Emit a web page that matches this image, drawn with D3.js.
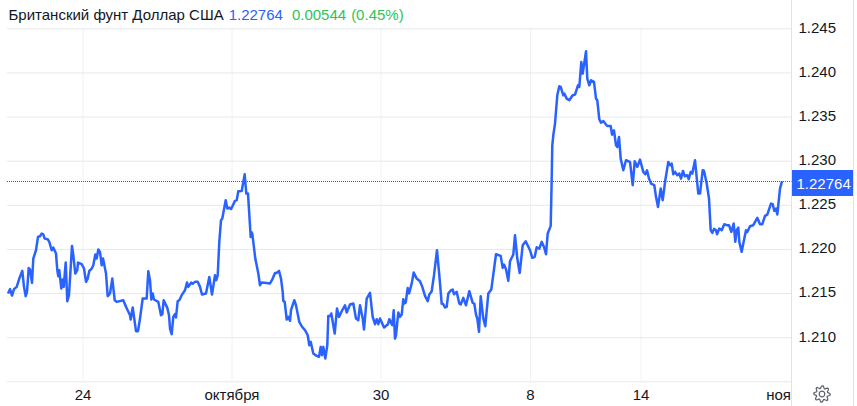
<!DOCTYPE html>
<html>
<head>
<meta charset="utf-8">
<script src="https://cdn.jsdelivr.net/npm/d3@7"></script>
<style>
    html, body { margin: 0; padding: 0; background: #fff; }
    svg { display: block; font-family: "Liberation Sans", Arial, sans-serif; }
</style>
</head>
<body>
<div class="chart"></div>
<script>
// время в барах от начала графика
var barTimes = [0,2,4,6,8.7,11.3,14.3,16,17.7,19,20.7,22,24,25.3,28,30,32,33.7,35.3,36.7,39.7,41.3,43.7,45.3,48,49.3,50.3,51.3,53.3,54.7,55.7,57.7,59.3,61,64,65.3,67.3,69.3,70,73.7,76,78,79.7,81.3,83.7,85.3,87.3,88.7,90.3,92,93.7,95,98,99.7,102,104.3,106.7,108.7,115.3,118,122,122.7,124.7,128,130,
    132,134.7,138.7,140.3,142,143.3,144.7,146,150.3,153,154.3,155.7,159.3,161,162,163.7,165.3,167,168,169.7,171.3,173.7,177,179,180.3,183.3,184.7,187,189.7,192,194,198,201.3,204,207,208.3,209.7,211.3,213,214.3,217.7,219.3,221.3,223,227,228.7,230.3,233.7,236.7,238.3,240,242.7,243.3,244.3,247.3,250.3,252,253.7,258.7,
    262,264.7,267,268.7,271,273,274.7,275.3,276.7,278.7,280.3,282,283,286.3,288,291.3,293.7,297,299.7,301.3,302.7,305.3,308.7,311,312.7,314,315.3,317.3,319.3,320.3,322.3,323.3,326.7,329,331,333.7,337,338.7,342,345.3,348,350.3,352,354.7,356,358.7,362,364.7,367,368.7,370.3,372,376,380,381.3,384.3,
    385.7,387,388,390.3,392,393.7,395.3,396.3,397.7,399.7,401,403.7,405.7,408.7,412,414.3,417,419.7,421.3,423.7,426,429,431.3,433.7,435.3,437,438.7,440.3,443,444.7,446,448.7,451.3,452.7,455.3,458,461.3,464.7,466.3,468,469.3,471,472.7,475.3,477.3,480.3,483.3,488,492.7,494.7,496,498,500.3,502,505.3,507,509.3,511.7,
    514.7,517.7,522,524.3,526.7,528.7,531.3,533.7,536,538,539.7,542.7,543.7,544.3,545.3,547,549.3,551.3,552.7,555.3,556.3,558.7,561.3,564.7,567,570,571.3,573.3,574.7,578,579.3,581.3,583,586,588,589.3,591.3,593,595.3,598,599.3,602.7,604,606,608,609.3,611,612.7,615.3,618,622,624.7,626.7,629.3,
    632,635.3,637.3,639,641,643,646.3,648,650,652.7,654.7,657.3,660.3,662,663.7,665.3,667,669.3,671.3,673,675,676.7,679.3,680.7,682.7,684.3,687,689.3,690.3,692,694.7,696,698.7,701,702.7,704.3,706,708,709,711.3,713.7,716.3,718.7,721,723.3,725.7,727.3,728.7,730.3,731.3,733.7,735.3,738,739.3,742,745.3,749.3,752,754.3,757,759.3,763,764.7,766.3,768,769.3,772,774];
var closes = [1.21495,1.21544,1.21472,1.21544,1.2157,1.21664,1.21751,1.2157,1.21464,1.21513,1.21785,1.21766,1.21615,1.21891,1.21985,1.22136,1.22144,1.22174,1.22166,1.22117,1.2211,1.2208,1.21985,1.22015,1.21948,1.21759,1.21691,1.21759,1.21551,1.21653,1.2157,1.21846,1.21408,1.21476,1.22034,1.21929,1.21721,1.21759,1.21846,1.21827,1.21778,1.21627,1.21664,1.21751,1.21778,1.21815,1.21936,1.21891,1.21993,1.21966,1.21815,1.21891,1.21721,1.21464,1.21495,1.21664,1.21419,1.214,1.21419,1.21344,1.21249,1.212,1.21336,1.21068,1.21068,
    1.21211,1.21438,1.21438,1.21748,1.21646,1.21427,1.21495,1.21427,1.214,1.21249,1.21257,1.21419,1.21332,1.21249,1.21098,1.21034,1.2123,1.21261,1.21223,1.21408,1.21419,1.21476,1.21532,1.21619,1.2157,1.21619,1.21604,1.21627,1.21627,1.2157,1.21483,1.21495,1.21683,1.21483,1.21702,1.21646,1.21702,1.2208,1.22325,1.22344,1.22552,1.22457,1.22469,1.2245,1.22544,1.22552,1.22654,1.22657,1.22846,1.22627,1.22627,1.22136,1.22193,1.22174,1.21891,1.21721,1.21589,1.21619,1.21615,
    1.21608,1.21664,1.21728,1.21728,1.21751,1.21664,1.21513,1.21411,1.214,1.212,1.2123,1.21185,1.21306,1.21419,1.21362,1.21173,1.21124,1.21079,1.21022,1.20909,1.20947,1.20815,1.20788,1.20777,1.2089,1.20796,1.2089,1.20758,1.20909,1.21241,1.21241,1.21268,1.21041,1.21324,1.2123,1.21294,1.21362,1.21279,1.2137,1.21381,1.21211,1.21192,1.21362,1.21211,1.21087,1.21438,1.21502,1.2123,1.21147,1.21204,1.21147,1.21211,1.21109,1.21147,1.21204,1.21136,
    1.21305,1.20984,1.21022,1.21279,1.2123,1.21256,1.2143,1.21381,1.21392,1.21558,1.21494,1.21607,1.21732,1.21664,1.21634,1.2157,1.21468,1.21407,1.21483,1.21521,1.21702,1.21985,1.21702,1.21381,1.21373,1.21336,1.21343,1.21494,1.21532,1.21539,1.21487,1.21513,1.21381,1.2137,1.21445,1.21362,1.21521,1.21388,1.21381,1.21256,1.21211,1.2106,1.21464,1.21211,1.21124,1.21494,1.21539,1.2194,1.21921,1.21785,1.21823,1.2177,1.21638,1.2186,1.21936,1.22155,1.21891,1.21728,
    1.22042,1.22087,1.21985,1.21899,1.2191,1.22019,1.22004,1.2208,1.22023,1.2194,1.22174,1.22261,1.22797,1.23174,1.23288,1.2342,1.23741,1.23843,1.23835,1.23741,1.2376,1.23703,1.23684,1.23741,1.23748,1.23854,1.23835,1.24118,1.23986,1.24239,1.2393,1.23854,1.23911,1.23892,1.23703,1.23684,1.23469,1.23431,1.2345,1.23409,1.23393,1.23393,1.23295,1.23344,1.23174,1.23156,1.23269,1.23023,1.22891,1.23005,1.22986,1.22722,1.22993,1.22929,
    1.23012,1.22873,1.22846,1.22891,1.22797,1.22741,1.22722,1.2259,1.22476,1.22684,1.22552,1.22778,1.22986,1.22948,1.22967,1.22846,1.22873,1.22835,1.22854,1.22797,1.22884,1.22824,1.22835,1.2279,1.22873,1.22854,1.23005,1.22741,1.22627,1.22627,1.22892,1.22884,1.22741,1.22571,1.22212,1.22182,1.22227,1.22212,1.22167,1.22231,1.22212,1.2228,1.22269,1.22269,1.22193,1.22288,1.2208,1.22212,1.22242,1.2208,1.21967,1.22061,1.22212,1.22193,1.22257,1.22269,1.22352,1.2228,1.2228,1.22374,1.22389,1.22514,1.22506,1.22431,1.22457,1.22389,1.22684,1.22767];

var xTickBars = [74.5, 223.5, 372.5, 522, 632.5, 782.5];
var xTickLabels = ["24", "октября", "30", "8", "14", "ноября"];
var yTicks = [1.205, 1.21, 1.215, 1.22, 1.225, 1.23, 1.235, 1.24, 1.245];
var lastPrice = 1.22764;
var titleParts = ["Британский фунт Доллар США", "1.22764", "0.00544", "(0.45%)"];

var width = 857, height = 406;
var axisX = 791.5, bottomY = 381.3;
var fontSize = 15;

var x = d3.scaleLinear().domain([0, 775]).range([8, 783]);
var y = d3.scaleLinear().domain([1.205, 1.245]).range([bottomY, 28.3]);

var svg = d3.select(".chart").append("svg")
    .attr("width", width)
    .attr("height", height);

// x axis + vertical grid
var xAxis = svg.append("g")
    .attr("transform", "translate(0," + bottomY + ")")
    .call(d3.axisBottom(x)
        .tickValues(xTickBars)
        .tickSize(-(bottomY - 28.3))
        .tickPadding(8)
        .tickFormat(function (d, i) { return xTickLabels[i]; }));
xAxis.select(".domain").remove();
xAxis.selectAll("line").attr("stroke", "#eff2f5");
xAxis.selectAll("line").filter(function (d, i) { return i == xTickBars.length - 1; }).remove();
xAxis.selectAll("text")
    .attr("fill", "#131722")
    .attr("font-size", fontSize)
    .attr("font-family", "Liberation Sans");
// последняя подпись обрезается правой шкалой
svg.append("clipPath").attr("id", "label-clip")
    .append("rect").attr("x", -40).attr("y", -5)
    .attr("width", axisX - 0.5 - x(xTickBars[5]) + 40).attr("height", 30);
xAxis.selectAll(".tick").filter(function (d, i) { return i == xTickBars.length - 1; })
    .attr("clip-path", "url(#label-clip)");

// y axis + horizontal grid
var yAxis = svg.append("g")
    .attr("transform", "translate(" + axisX + ",0)")
    .call(d3.axisRight(y)
        .tickValues(yTicks)
        .tickSize(-(axisX - 7))
        .tickPadding(7)
        .tickFormat(d3.format(".3f")));
yAxis.select(".domain").remove();
yAxis.selectAll("line").attr("stroke", "#e6e8eb");
yAxis.selectAll("text")
    .attr("fill", "#131722")
    .attr("font-size", fontSize)
    .attr("font-family", "Liberation Sans")
    .attr("dy", "0.26em");
yAxis.selectAll("text").filter(function (d) { return d == 1.205; }).remove();

// borders
svg.append("line").attr("x1", axisX).attr("x2", axisX).attr("y1", 0).attr("y2", height)
    .attr("stroke", "#e0e3e8");
svg.append("line").attr("x1", 853.5).attr("x2", 853.5).attr("y1", 0).attr("y2", height)
    .attr("stroke", "#e0e3e8");

// price line
var line = d3.line()
    .x(function (d, i) { return x(barTimes[i]); })
    .y(function (d) { return y(d); });
svg.append("path")
    .attr("d", line(closes))
    .attr("fill", "none")
    .attr("stroke", "#2962ff")
    .attr("stroke-width", 2.5)
    .attr("stroke-linejoin", "round");

// last price marker
var lastY = Math.floor(y(lastPrice)) + 0.5;
svg.append("line")
    .attr("x1", 7).attr("x2", axisX)
    .attr("y1", lastY).attr("y2", lastY)
    .attr("stroke", "#4a5a90")
    .attr("stroke-dasharray", "1 1");
svg.append("rect")
    .attr("x", 792).attr("y", lastY - 11.5)
    .attr("width", 61).attr("height", 26)
    .attr("fill", "#2962ff");
svg.append("text")
    .attr("x", 796.5).attr("y", lastY + 7.5)
    .attr("fill", "#fff")
    .attr("font-size", fontSize)
    .text(d3.format(".5f")(lastPrice));

// header
var title = svg.append("text").attr("x", 8.5).attr("y", 20).attr("font-size", fontSize);
title.append("tspan").attr("fill", "#131722").text(titleParts[0]);
title.append("tspan").attr("fill", "#2962ff").attr("dx", 5).text(titleParts[1]);
title.append("tspan").attr("fill", "#2fc35a").attr("dx", 9).text(titleParts[2]);
title.append("tspan").attr("fill", "#2fc35a").attr("dx", 5).text(titleParts[3]);

// settings gear
var gearRadii = d3.range(48).map(function (i) {
    var k = i % 6;
    return k < 2 ? 8.2 : k == 2 || k == 5 ? 7 : 5.8;
});
var gear = svg.append("g").attr("transform", "translate(822,394)")
    .attr("fill", "none").attr("stroke", "#5d606b").attr("stroke-width", 1.2);
gear.append("path").attr("d", d3.lineRadial()
    .angle(function (d, i) { return i / 48 * 2 * Math.PI; })
    .radius(function (d) { return d; })
    .curve(d3.curveLinearClosed)(gearRadii));
gear.append("circle").attr("r", 2.8);
</script>
</body>
</html>
